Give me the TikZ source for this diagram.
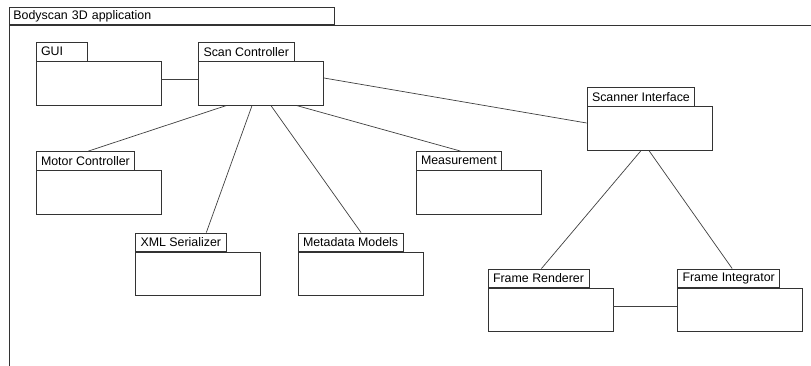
\documentclass[tikz,border=0pt]{standalone}
\usepackage{fontspec}
\setmainfont{Liberation Sans}
\begin{document}
\begin{tikzpicture}[x=1pt,y=-1pt,
  pkg/.style={draw=black!80,line width=0.8pt,minimum width=125pt,minimum height=43.5pt,inner sep=0pt},
  pkgtab/.style={draw=black!80,line width=0.8pt,anchor=south west,inner xsep=5pt,inner ysep=1pt,
    minimum height=18.5pt,font=\fontsize{12.4}{14}\selectfont},
  link/.style={draw=black!75,line width=0.7pt}]

\clip (0,0) rectangle (811,366);
\fill[white] (0,0) rectangle (811,366);

\node[pkgtab,inner xsep=4pt,text width=317pt,minimum height=17pt] (apptab) at (9,25) {Bodyscan 3D application};
\draw[black!80,line width=0.8pt] (apptab.south west) rectangle (840,400);

\node[pkg] (gui) at (98.5,83.5) {};
\node[pkgtab,text width=41pt] (guitab) at (gui.north west) {GUI};

\node[pkg] (sc) at (261,83.5) {};
\node[pkgtab] (sctab) at (sc.north west) {Scan Controller};

\node[pkg] (si) at (649.5,128.5) {};
\node[pkgtab] (sitab) at (si.north west) {Scanner Interface};

\node[pkg] (motor) at (98.5,192.5) {};
\node[pkgtab] (motortab) at (motor.north west) {Motor Controller};

\node[pkg] (meas) at (478.5,192.5) {};
\node[pkgtab] (meastab) at (meas.north west) {Measurement};

\node[pkg] (xml) at (198,274) {};
\node[pkgtab] (xmltab) at (xml.north west) {XML Serializer};

\node[pkg] (meta) at (360.5,274) {};
\node[pkgtab] (metatab) at (meta.north west) {Metadata Models};

\node[pkg] (render) at (550.5,310) {};
\node[pkgtab] (rendertab) at (render.north west) {Frame Renderer};

\node[pkg] (integ) at (740,310) {};
\node[pkgtab] (integtab) at (integ.north west) {Frame Integrator};

\draw[link] ([yshift=4.5pt]gui.east) -- ([yshift=4.5pt]sc.west);
\draw[link] ([yshift=5.5pt]sc.east) -- ([yshift=5.5pt]si.west);
\draw[link] ([yshift=4pt]render.east) -- ([yshift=4pt]integ.west);

\draw[link] ([xshift=-35pt]sc.south) -- ([xshift=3pt]motortab.north);
\draw[link] ([xshift=-9pt]sc.south) -- ([xshift=25.5pt]xmltab.north);
\draw[link] ([xshift=10pt]sc.south) -- ([xshift=10.5pt]metatab.north);
\draw[link] ([xshift=36pt]sc.south) -- ([xshift=1.5pt]meastab.north);

\draw[link] ([xshift=-8.5pt]si.south) -- ([xshift=3pt]rendertab.north);
\draw[link] ([xshift=-0.5pt]si.south) -- ([xshift=3.5pt]integtab.north);

\end{tikzpicture}
\end{document}
